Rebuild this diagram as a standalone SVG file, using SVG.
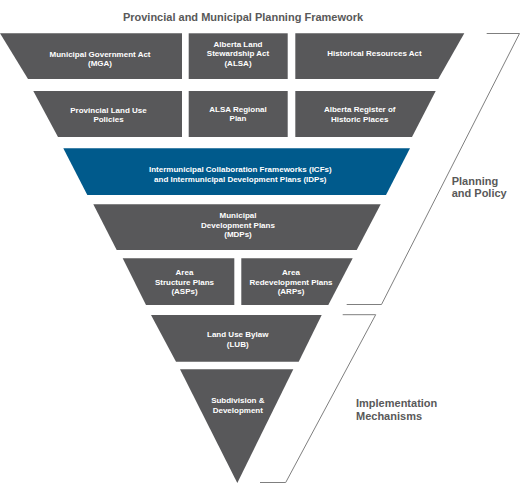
<svg xmlns="http://www.w3.org/2000/svg" width="520" height="484" viewBox="0 0 520 484">
<style>
.g{fill:#58585a}
.b{fill:#005a8c}
.t{font-family:"Liberation Sans",Arial,sans-serif;font-weight:bold;font-size:8px;fill:#ffffff;text-anchor:middle}
.h{font-family:"Liberation Sans",Arial,sans-serif;font-weight:bold;font-size:11px;fill:#595959}
.br{fill:none;stroke:#7f7f7f;stroke-width:1}
</style>
<rect width="520" height="484" fill="#ffffff"/>
<text class="h" x="243" y="21.3" text-anchor="middle">Provincial and Municipal Planning Framework</text>

<g id="mga"><polygon class="g" points="0,33.3 182,33.3 182,79 28,79"/>
<text class="t" x="100" y="56.6">Municipal Government Act</text><text class="t" x="100" y="66">(MGA)</text></g>
<g id="alsa"><rect class="g" x="188.7" y="33.3" width="99" height="45.7"/>
<text class="t" x="238" y="46.7">Alberta Land</text><text class="t" x="238" y="56.2">Stewardship Act</text><text class="t" x="238" y="65.7">(ALSA)</text></g>
<g id="hra"><polygon class="g" points="295.3,33.3 464.3,33.3 438.3,79 295.3,79"/>
<text class="t" x="374.5" y="56">Historical Resources Act</text></g>

<g id="plup"><polygon class="g" points="33.3,91 182,91 182,137 58,137"/>
<text class="t" x="108.5" y="112.8">Provincial Land Use</text><text class="t" x="108.5" y="122.2">Policies</text></g>
<g id="alsarp"><rect class="g" x="188.7" y="91" width="99" height="46"/>
<text class="t" x="238" y="112">ALSA Regional</text><text class="t" x="238" y="121.4">Plan</text></g>
<g id="arhp"><polygon class="g" points="295.3,91 435.7,91 412,137 295.3,137"/>
<text class="t" x="359.7" y="112.2">Alberta Register of</text><text class="t" x="359.7" y="121.6">Historic Places</text></g>

<g id="icf"><polygon class="b" points="63.3,148.3 410,148.3 386,195 87.3,195"/>
<text class="t" x="240.3" y="171.6">Intermunicipal Collaboration Frameworks (ICFs)</text><text class="t" x="240.3" y="182.4">and Intermunicipal Development Plans (IDPs)</text></g>

<g id="mdp"><polygon class="g" points="93.3,204.3 380.7,204.3 356.7,250 116.7,250"/>
<text class="t" x="238" y="218.3">Municipal</text><text class="t" x="238" y="227.7">Development Plans</text><text class="t" x="238" y="237.2">(MDPs)</text></g>

<g id="asp"><polygon class="g" points="122.7,258.3 234.3,258.3 234.3,305 146,305"/>
<text class="t" x="184.5" y="275">Area</text><text class="t" x="184.5" y="284.5">Structure Plans</text><text class="t" x="184.5" y="294">(ASPs)</text></g>
<g id="arp"><polygon class="g" points="241.3,258.3 352.7,258.3 328.3,305 241.3,305"/>
<text class="t" x="291" y="275">Area</text><text class="t" x="291" y="284.5">Redevelopment Plans</text><text class="t" x="291" y="294">(ARPs)</text></g>

<g id="lub"><polygon class="g" points="151,315 321.7,315 298.7,361.7 176,361.7"/>
<text class="t" x="237.7" y="337.3">Land Use Bylaw</text><text class="t" x="237.7" y="346.7">(LUB)</text></g>

<g id="sub"><polygon class="g" points="180,369.3 293.3,369.3 237.3,483"/>
<text class="t" x="237.8" y="403.3">Subdivision &amp;</text><text class="t" x="237.8" y="412.7">Development</text></g>

<g id="connectors">
<polyline class="br" points="486.7,33.5 519.5,33.5 381.5,304.5 346.7,304.5"/>
<polyline class="br" points="342.7,314.7 375.7,314.7 285.7,482.5 260,482.5"/>
</g>

<g id="planning"><text class="h" x="451.7" y="185">Planning</text><text class="h" x="451.7" y="197.3">and Policy</text></g>
<g id="impl"><text class="h" x="356" y="407.3">Implementation</text><text class="h" x="356" y="420">Mechanisms</text></g>
</svg>
